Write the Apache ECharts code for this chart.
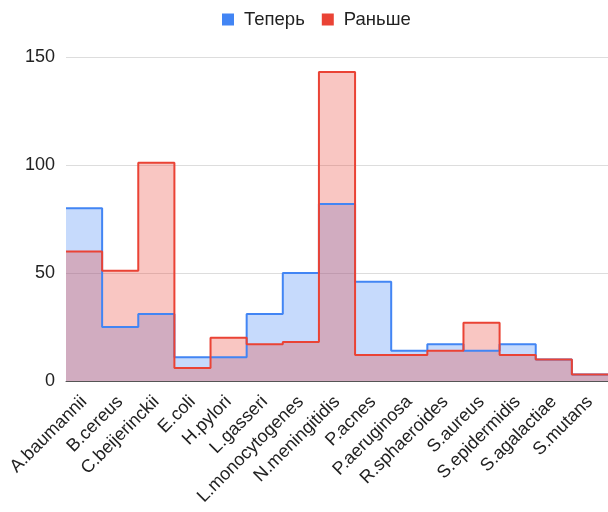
<!DOCTYPE html>
<html><head><meta charset="utf-8">
<script src="https://cdn.jsdelivr.net/npm/echarts@6/dist/echarts.min.js"></script>
<style>html,body{margin:0;padding:0;background:#fff}#c{width:608px;height:512px}</style>
</head><body><div id="c"></div>
<script>
var categories = ['A.baumannii','B.cereus','C.beijerinckii','E.coli','H.pylori','L.gasseri','L.monocytogenes','N.meningitidis','P.acnes','P.aeruginosa','R.sphaeroides','S.aureus','S.epidermidis','S.agalactiae','S.mutans'];
var teper = [80,25,31,11,11,31,50,82,46,14,17,14,17,10,3];
var ranshe = [60,51,101,6,20,17,18,143,12,12,14,27,12,10,3];
var yTicks = [0,50,100,150];

function stepData(vals){
  var d = vals.map(function(v,i){return [i,v];});
  d.push([vals.length, vals[vals.length-1]]);
  return d;
}
var FONT = "'Liberation Sans', Arial, sans-serif";
var chart = echarts.init(document.getElementById('c'));
chart.setOption({
  animation:false,
  legend:{top:5,left:217,itemWidth:12,itemHeight:12,itemGap:17,icon:'rect',
    textStyle:{fontFamily:FONT,fontSize:18.5,color:'#222',padding:[0,0,0,5]},
    data:['Теперь','Раньше']},
  grid:{left:66,right:0,top:57,bottom:131},
  xAxis:[
    {type:'value',min:0,max:categories.length,show:false},
    {type:'category',data:categories,boundaryGap:true,position:'bottom',
     axisLine:{show:true,lineStyle:{color:'#555',width:1}},axisTick:{show:false},
     axisLabel:{rotate:45,interval:0,fontFamily:FONT,fontSize:18,color:'#222',margin:18}}
  ],
  yAxis:{type:'value',min:yTicks[0],max:yTicks[yTicks.length-1],interval:50,
    axisLine:{show:false},axisTick:{show:false},
    axisLabel:{fontFamily:FONT,fontSize:18,color:'#222',margin:11},
    splitLine:{lineStyle:{color:'#ddd'}}},
  series:[
    {name:'Теперь',type:'line',xAxisIndex:0,step:'end',data:stepData(teper),symbol:'none',
     itemStyle:{color:'#4285F4'},lineStyle:{width:2,color:'#4285F4'},areaStyle:{color:'#4285F4',opacity:0.3}},
    {name:'Раньше',type:'line',xAxisIndex:0,step:'end',data:stepData(ranshe),symbol:'none',
     itemStyle:{color:'#EA4335'},lineStyle:{width:2,color:'#EA4335'},areaStyle:{color:'#EA4335',opacity:0.3}}
  ]
});
</script></body></html>
